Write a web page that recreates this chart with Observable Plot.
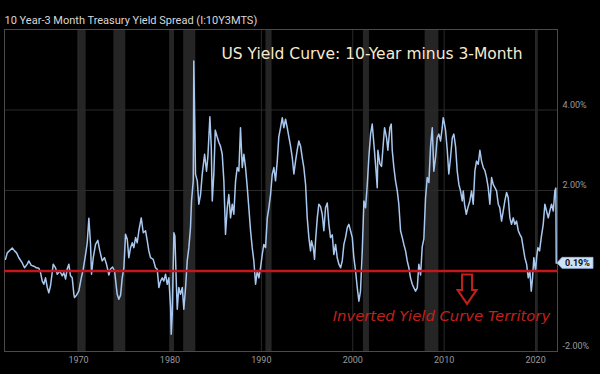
<!DOCTYPE html>
<html>
<head>
<meta charset="utf-8">
<script src="https://cdn.jsdelivr.net/npm/d3@7"></script>
<script src="https://cdn.jsdelivr.net/npm/@observablehq/plot@0.6"></script>
<style>
  html, body { margin: 0; padding: 0; background: #000; }
  #chart svg { display: block; }
</style>
</head>
<body>
<div id="chart"></div>
<script>
// ---- Data ----
const years = [
  1962.01,1962.20,1962.75,1963.00,1963.22,1963.47,1963.84,1964.09,1964.39,1964.56,
  1964.83,1965.11,1965.40,1965.66,1965.84,1966.03,1966.20,1966.39,1966.58,1966.75,
  1966.94,1967.23,1967.48,1967.67,1967.95,1968.22,1968.39,1968.58,1968.76,1968.94,
  1969.12,1969.31,1969.49,1969.56,1969.78,1970.03,1970.30,1970.51,1970.77,1970.95,
  1971.13,1971.31,1971.42,1971.61,1971.86,1972.11,1972.33,1972.59,1972.84,1973.06,
  1973.32,1973.50,1973.72,1973.94,1974.23,1974.41,1974.60,1974.78,1974.96,1975.14,
  1975.33,1975.50,1975.69,1975.88,1976.05,1976.24,1976.42,1976.60,1976.86,1977.08,
  1977.33,1977.52,1977.69,1977.88,1978.17,1978.42,1978.61,1978.79,1978.97,1979.16,
  1979.33,1979.52,1979.70,1979.88,1980.07,1980.14,1980.25,1980.43,1980.54,1980.69,
  1980.80,1980.97,1981.16,1981.35,1981.52,1981.71,1981.89,1982.07,1982.25,1982.36,
  1982.55,1982.61,1982.80,1982.99,1983.16,1983.35,1983.53,1983.79,1984.00,1984.15,
  1984.37,1984.52,1984.63,1984.80,1984.96,1985.17,1985.35,1985.54,1985.72,1985.90,
  1986.08,1986.27,1986.44,1986.63,1986.82,1986.99,1987.18,1987.36,1987.54,1987.72,
  1987.91,1988.09,1988.27,1988.46,1988.63,1988.82,1989.00,1989.18,1989.37,1989.55,
  1989.73,1989.91,1990.10,1990.27,1990.46,1990.65,1990.82,1991.01,1991.19,1991.37,
  1991.55,1991.74,1991.91,1992.10,1992.29,1992.46,1992.65,1992.83,1993.01,1993.19,
  1993.38,1993.56,1993.74,1993.92,1994.10,1994.29,1994.47,1994.65,1994.84,1995.02,
  1995.20,1995.38,1995.49,1995.68,1995.82,1995.93,1996.12,1996.29,1996.48,1996.66,
  1996.84,1997.02,1997.21,1997.39,1997.57,1997.76,1997.93,1998.12,1998.30,1998.48,
  1998.67,1998.85,1999.03,1999.21,1999.40,1999.57,1999.76,1999.95,2000.12,2000.31,
  2000.49,2000.67,2000.85,2001.04,2001.22,2001.40,2001.59,2001.76,2001.95,2002.13,
  2002.31,2002.49,2002.68,2002.75,2002.97,2003.15,2003.34,2003.48,2003.70,2003.84,
  2004.06,2004.21,2004.32,2004.50,2004.68,2004.87,2005.04,2005.23,2005.42,2005.59,
  2005.78,2005.96,2006.14,2006.32,2006.51,2006.69,2006.87,2007.06,2007.23,2007.42,
  2007.60,2007.78,2007.96,2008.15,2008.33,2008.51,2008.70,2008.87,2009.06,2009.24,
  2009.42,2009.61,2009.79,2009.90,2010.04,2010.15,2010.34,2010.51,2010.70,2010.89,
  2011.06,2011.25,2011.43,2011.61,2011.79,2011.98,2012.09,2012.23,2012.42,2012.59,
  2012.81,2013.00,2013.18,2013.36,2013.54,2013.73,2013.91,2014.09,2014.28,2014.45,
  2014.64,2014.82,2015.00,2015.19,2015.37,2015.55,2015.73,2015.92,2016.09,2016.28,
  2016.46,2016.64,2016.83,2017.01,2017.19,2017.37,2017.56,2017.73,2017.92,2018.11,
  2018.28,2018.47,2018.65,2018.83,2019.02,2019.20,2019.38,2019.53,2019.67,2019.81,
  2020.00,2020.11,2020.25,2020.44,2020.62,2020.84,2021.02,2021.20,2021.39,2021.56,
  2021.75,2021.94,2022.11,2022.22,2022.26
];
const spread = [
  0.29,0.45,0.57,0.50,0.45,0.33,0.20,0.08,0.17,0.25,
  0.14,0.12,0.08,0.07,-0.04,-0.25,-0.33,-0.17,-0.41,-0.54,
  -0.36,0.17,0.08,-0.08,0.00,-0.12,-0.04,-0.20,0.05,0.17,
  -0.12,-0.17,-0.58,-0.66,-0.60,-0.50,-0.17,0.04,0.41,0.70,
  1.31,0.67,-0.08,0.33,0.66,0.76,0.50,0.25,0.33,0.17,
  -0.10,0.05,0.10,0.00,-0.58,-0.70,-0.60,-0.17,0.08,0.91,
  0.79,0.33,0.58,0.70,0.58,0.83,0.70,1.00,1.32,0.95,
  1.00,0.75,0.50,0.33,0.29,0.08,0.04,-0.41,-0.25,-0.17,
  -0.25,-0.08,-0.33,-0.17,-0.91,-1.57,-1.08,0.95,0.87,-0.25,
  -0.95,-0.41,-0.58,-0.41,-0.95,-0.41,0.25,0.58,1.08,1.74,
  2.24,5.22,2.40,2.24,1.66,1.90,2.40,2.90,2.48,2.84,
  3.83,3.09,1.74,2.40,3.50,3.33,3.20,3.09,2.90,2.24,
  0.91,1.57,1.90,1.32,1.66,1.41,2.24,2.57,2.48,3.56,
  2.57,2.90,2.57,2.07,1.57,1.00,0.58,0.25,-0.33,0.00,
  -0.17,0.08,0.41,0.66,0.58,1.32,1.57,1.90,2.40,2.57,
  2.24,2.73,3.33,3.56,3.81,3.56,3.77,3.56,3.33,3.11,
  2.82,2.41,2.73,3.00,3.23,3.10,2.82,2.57,2.15,1.32,
  0.83,0.50,0.75,0.58,0.29,0.75,1.32,1.66,1.60,1.41,
  1.00,1.57,1.69,1.16,0.83,0.90,0.41,0.66,0.33,0.17,
  0.08,0.25,0.66,0.83,1.08,1.16,1.00,0.83,0.33,0.00,
  -0.41,-0.75,-0.50,0.50,1.74,1.57,2.15,2.82,3.40,3.65,
  3.16,2.66,2.07,3.00,2.66,2.60,3.16,3.56,3.31,3.00,
  3.56,3.65,3.00,2.57,2.24,1.99,1.66,1.00,0.83,0.66,
  0.50,0.25,0.08,-0.17,-0.33,-0.42,-0.50,-0.42,0.17,-0.10,
  0.60,0.80,1.80,2.32,2.20,3.09,3.56,2.48,2.82,3.31,
  3.40,3.23,3.56,3.81,3.65,3.50,3.00,2.41,2.82,3.31,
  3.40,3.09,2.48,2.15,1.99,1.74,1.99,1.66,1.41,1.57,
  1.74,1.99,1.66,2.48,2.73,2.65,3.00,2.73,2.57,2.50,
  2.32,2.07,1.66,2.32,2.15,2.07,1.99,1.66,1.57,1.24,
  1.49,1.74,1.95,1.82,1.32,1.16,1.32,1.16,1.24,1.00,
  0.91,0.83,0.58,0.33,0.17,-0.17,0.00,-0.50,-0.17,0.33,
  0.00,0.33,0.58,0.50,0.83,1.16,1.66,1.49,1.32,1.49,
  1.66,1.49,1.99,2.06,0.19
];
const recessionStart = [1969.92, 1973.87, 1980.00, 1981.50, 1990.50, 2001.17, 2007.92, 2020.08];
const recessionEnd   = [1970.83, 1975.17, 1980.50, 1982.83, 1991.17, 2001.83, 2009.42, 2020.30];
const xTicks = [1970, 1980, 1990, 2000, 2010, 2020];
const yLabels = [-2, 2, 4];
const yGrid = [2, 4];
const titleText = "10 Year-3 Month Treasury Yield Spread (I:10Y3MTS)";
const headline = "US Yield Curve: 10-Year minus 3-Month";
const invertedText = "Inverted Yield Curve Territory";
// annotation anchors in data units (year, percent)
const headlineAt = [2002.1, 5.39];
const invertedAt = [2009.7, -1.12];
const arrowAt = {year: 2012.56, top: -0.1, tip: -0.83};

const series = years.map((y, i) => ({year: y, value: spread[i]}));
const recessions = recessionStart.map((s, i) => ({start: s, end: recessionEnd[i]}));
const lastPoint = series[series.length - 1];

const plot = Plot.plot({
  width: 600,
  height: 374,
  marginTop: 29,
  marginBottom: 23,
  marginLeft: 4,
  marginRight: 43,
  style: {background: "#000", color: "#9a9a9a", fontFamily: "Roboto, sans-serif", fontSize: "9px", overflow: "visible"},
  x: {domain: [1961.9, 2022.4], axis: null},
  y: {domain: [-2, 6], axis: null},
  marks: [
    Plot.rect(recessions, {x1: "start", x2: "end", fill: "#252525"}),
    Plot.gridX(xTicks, {stroke: "#2a2a2a", strokeOpacity: 1}),
    Plot.gridY(yGrid, {stroke: "#2a2a2a", strokeOpacity: 1}),
    Plot.frame({stroke: "#4a4a4a"}),
    Plot.line(series, {x: "year", y: "value", stroke: "#a8c8f0", strokeWidth: 1.5}),
    Plot.ruleY([0], {stroke: "#c4161c", strokeWidth: 2.5}),
    Plot.text(xTicks, {x: d => d, frameAnchor: "bottom", dy: 11, text: d => String(d), fill: "#9a9a9a", fontSize: 9}),
    Plot.text(yLabels, {y: d => d, frameAnchor: "right", dx: 5, dy: -5, textAnchor: "start", text: d => d.toFixed(2) + "%", fill: "#9a9a9a", fontSize: 9}),
    Plot.text([titleText], {frameAnchor: "top-left", dy: -13, textAnchor: "start", fill: "#d8d8d8", fontSize: 11}),
    Plot.text([headline], {x: () => headlineAt[0], y: () => headlineAt[1], text: d => d, fill: "#f7e9cf", fontSize: 15.5, fontFamily: "DejaVu Sans"}),
    Plot.text([invertedText], {x: () => invertedAt[0], y: () => invertedAt[1], text: d => d, fill: "#c3201a", fontSize: 14.8, fontStyle: "italic", fontFamily: "DejaVu Sans"})
  ]
});

document.getElementById("chart").appendChild(plot);

const svg = d3.select(plot);
const xs = plot.scale("x"), ys = plot.scale("y");

// Hollow down arrow, placed through the plot's scales
const ax = xs.apply(arrowAt.year);
const aTop = ys.apply(arrowAt.top);
const aTip = ys.apply(arrowAt.tip);
const shaftHalf = 5, headHalf = 9.5, headLen = 14;
const aNeck = aTip - headLen;
svg.append("path")
  .attr("d", `M${ax - shaftHalf},${aTop} L${ax + shaftHalf},${aTop} L${ax + shaftHalf},${aNeck} L${ax + headHalf},${aNeck} L${ax},${aTip} L${ax - headHalf},${aNeck} L${ax - shaftHalf},${aNeck} Z`)
  .attr("fill", "none")
  .attr("stroke", "#c3201a")
  .attr("stroke-width", 2)
  .attr("stroke-linejoin", "miter");

// Last-value callout
const tipX = xs.apply(xs.domain[1]);
const tipY = ys.apply(lastPoint.value);
const g = svg.append("g");
const bw = 36, bh = 11, notch = 5;
g.append("path")
  .attr("d", `M${tipX},${tipY} L${tipX + notch},${tipY - bh / 2} L${tipX + bw},${tipY - bh / 2} L${tipX + bw},${tipY + bh / 2} L${tipX + notch},${tipY + bh / 2} Z`)
  .attr("fill", "#cfe1f7")
  .attr("stroke", "#9dbbe0")
  .attr("stroke-width", 0.8);
g.append("text")
  .attr("x", tipX + notch + (bw - notch) / 2)
  .attr("y", tipY)
  .attr("dy", "0.35em")
  .attr("text-anchor", "middle")
  .attr("font-family", "Roboto, sans-serif")
  .attr("font-weight", "bold")
  .attr("font-size", 9)
  .attr("fill", "#111")
  .text(lastPoint.value.toFixed(2) + "%");
</script>
</body>
</html>
